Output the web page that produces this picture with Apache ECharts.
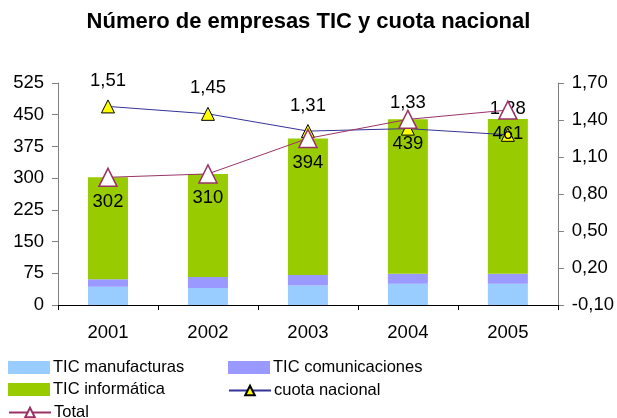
<!DOCTYPE html>
<html>
<head>
<meta charset="utf-8">
<script src="https://cdn.jsdelivr.net/npm/echarts@6/dist/echarts.min.js"></script>
<style>
  html, body { margin: 0; padding: 0; background: #fff; }
  #chart { width: 617px; height: 418px; }
</style>
</head>
<body>
<div id="chart"></div>
<script>
var years = ['2001', '2002', '2003', '2004', '2005'];
var manufacturas = [43, 40, 46, 50, 50];
var comunicaciones = [18, 26, 25, 24, 24];
var informatica = [241, 244, 323, 365, 366];
var total = [302, 310, 394, 439, 461];
var cuota = [1.51, 1.45, 1.31, 1.33, 1.28];

var font = 'Liberation Sans, Arial, sans-serif';
function coma(v) { return v.toFixed(2).replace('.', ','); }

var chart = echarts.init(document.getElementById('chart'));

// one legend per entry so each sits where the original has it
function leg(name, left, top, icon, h) {
  var l = {
    data: [name], left: left, top: top,
    itemWidth: 42, itemHeight: h || 13, itemGap: 4,
    textStyle: { fontFamily: font, fontSize: 16.5, color: '#000', padding: [0, 0, 0, -2] },
    padding: 0
  };
  if (icon) l.icon = icon;
  return l;
}

var option = {
  animation: false,
  title: {
    text: 'Número de empresas TIC y cuota nacional',
    left: 'center', top: 6,
    textStyle: { fontFamily: font, fontSize: 22, fontWeight: 'bold', color: '#000' }
  },
  legend: [
    leg('TIC manufacturas', 8, 359, 'rect'),
    leg('TIC comunicaciones', 228, 359, 'rect'),
    leg('TIC informática', 8, 381, 'rect'),
    leg('cuota nacional', 228, 382, null, 12),
    leg('Total', 8, 404, null, 12)
  ],
  grid: { left: 58, right: 59, top: 83, bottom: 113 },
  xAxis: {
    type: 'category', data: years,
    axisLine: { lineStyle: { color: '#000', width: 1 } },
    axisTick: { show: true, length: 5, lineStyle: { color: '#000' } },
    axisLabel: { fontFamily: font, fontSize: 18.5, color: '#000', margin: 18 }
  },
  yAxis: [
    {
      type: 'value', min: 0, max: 525, interval: 75,
      splitLine: { show: false },
      axisLine: { show: true, lineStyle: { color: '#808080' } },
      axisTick: { show: true, length: 6, lineStyle: { color: '#808080' } },
      axisLabel: { fontFamily: font, fontSize: 18.5, color: '#000', margin: 14 }
    },
    {
      type: 'value', min: -0.1, max: 1.7, interval: 0.3,
      splitLine: { show: false },
      axisLine: { show: true, lineStyle: { color: '#808080' } },
      axisTick: { show: true, length: 6, lineStyle: { color: '#808080' } },
      axisLabel: {
        fontFamily: font, fontSize: 18.5, color: '#000', margin: 14,
        formatter: function (v) { return coma(v); }
      }
    }
  ],
  series: [
    { name: 'TIC manufacturas', type: 'bar', stack: 'a', barWidth: 40,
      itemStyle: { color: '#99CCFF' }, data: manufacturas },
    { name: 'TIC comunicaciones', type: 'bar', stack: 'a', barWidth: 40,
      itemStyle: { color: '#9999FF' }, data: comunicaciones },
    { name: 'TIC informática', type: 'bar', stack: 'a', barWidth: 40,
      itemStyle: { color: '#99CC00' }, data: informatica },
    { name: 'cuota nacional', type: 'line', yAxisIndex: 1, z: 3,
      symbol: 'triangle', symbolSize: 13,
      lineStyle: { color: '#333399', width: 1 },
      itemStyle: { color: '#FFFF00', borderColor: '#000', borderWidth: 1 },
      label: { show: true, position: 'top', distance: 9, fontFamily: font, fontSize: 18.5, color: '#000',
        formatter: function (p) { return coma(p.value); } },
      data: cuota },
    { name: 'Total', type: 'line', z: 4,
      symbol: 'triangle', symbolSize: 18,
      lineStyle: { color: '#993366', width: 1 },
      itemStyle: { color: '#FFFFFF', borderColor: '#993366', borderWidth: 1.5 },
      label: { show: true, position: 'bottom', distance: 5, fontFamily: font, fontSize: 18.5, color: '#000' },
      data: total }
  ]
};
chart.setOption(option);
</script>
</body>
</html>
